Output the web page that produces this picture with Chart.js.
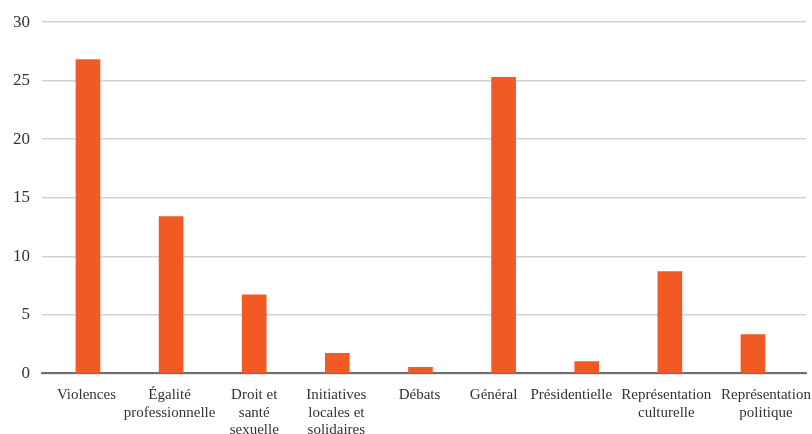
<!DOCTYPE html>
<html lang="fr">
<head>
<meta charset="utf-8">
<title>Articles par thème</title>
<script src="https://cdn.jsdelivr.net/npm/chart.js@4/dist/chart.umd.min.js"></script>
<style>
  html, body { margin: 0; padding: 0; background: #fff; overflow: hidden; }
  #wrap { width: 812px; height: 450px; }
</style>
</head>
<body>
<div id="wrap"><canvas id="graphique" width="812" height="450"></canvas></div>
<script>
// Thèmes (une entrée par barre, lignes du libellé séparées)
const themes = [
    ['Violences'],
    ['Égalité', 'professionnelle'],
    ['Droit et', 'santé', 'sexuelle'],
    ['Initiatives', 'locales et', 'solidaires'],
    ['Débats'],
    ['Général'],
    ['Présidentielle'],
    ['Représentation', 'culturelle'],
    ['Représentation', 'politique']
];

// Valeurs par thème
const valeurs = [26.8, 13.4, 6.7, 1.7, 0.5, 25.3, 1.0, 8.7, 3.3];

// Graduations de l'axe vertical
const graduations = [0, 5, 10, 15, 20, 25, 30];

// Décalage horizontal des libellés (px) pour éviter qu'ils se chevauchent
const decalages = [-1.5, -1.5, 0, -1, -1, -10, -15.5, -3.5, 13];

const police = "'Liberation Serif', 'DejaVu Serif', serif";

// Libellés de l'axe x dessinés à la main, centrés sous chaque barre
const libellesX = {
    id: 'libellesX',
    afterDraw(chart) {
        const { ctx, scales: { x }, chartArea } = chart;
        ctx.save();
        ctx.font = '15px ' + police;
        ctx.fillStyle = '#333';
        ctx.textAlign = 'center';
        ctx.textBaseline = 'alphabetic';
        themes.forEach((lignes, i) => {
            const px = x.getPixelForValue(i) + decalages[i];
            lignes.forEach((texte, j) => {
                ctx.fillText(texte, px, chartArea.bottom + 26 + j * 17.5);
            });
        });
        ctx.restore();
    }
};

function inicializarGrafico(canvasId) {
    const ctx = document.getElementById(canvasId).getContext('2d');
    const hauteur = ctx.canvas.height;

    new Chart(ctx, {
        type: 'bar',
        data: {
            datasets: [{
                data: valeurs.map((v, i) => ({ x: i, y: v })),
                backgroundColor: '#F15A22',
                borderWidth: 0,
                barThickness: 24
            }]
        },
        plugins: [libellesX],
        options: {
            responsive: false,
            animation: false,
            layout: {
                padding: { top: 19, right: 6, bottom: 0, left: 0 }
            },
            plugins: {
                legend: { display: false },
                tooltip: { enabled: false }
            },
            scales: {
                x: {
                    type: 'linear',
                    offset: false,
                    min: -0.553,
                    max: 8.638,
                    afterBuildTicks: (axis) => {
                        axis.ticks = themes.map((t, i) => ({ value: i }));
                    },
                    afterFit: (axis) => {
                        axis.height = hauteur - 373.3;
                    },
                    grid: { display: false, drawTicks: false },
                    border: { display: true, color: '#6e6e6e', width: 2 },
                    ticks: { display: false }
                },
                y: {
                    min: 0,
                    max: 30,
                    afterBuildTicks: (axis) => {
                        axis.ticks = graduations.map(v => ({ value: v }));
                    },
                    afterFit: (axis) => {
                        axis.width = 42;
                    },
                    grid: { color: '#d2d2d2', lineWidth: 1.5, drawTicks: false },
                    border: { display: false },
                    ticks: {
                        padding: 12,
                        color: '#333',
                        font: { family: police, size: 17 }
                    }
                }
            }
        }
    });
}

inicializarGrafico('graphique');
</script>
</body>
</html>
